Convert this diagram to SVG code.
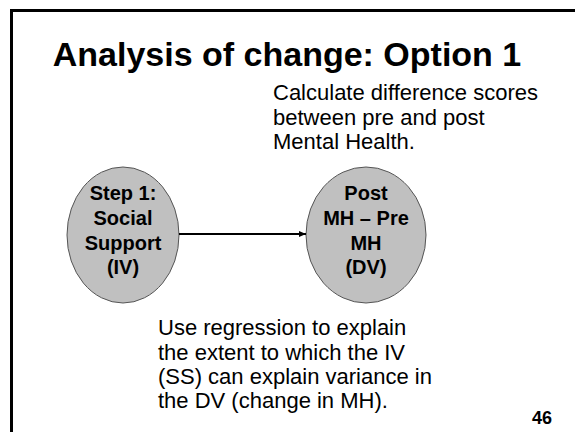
<svg xmlns="http://www.w3.org/2000/svg" width="575" height="432" viewBox="0 0 575 432">
<style>
.t{font-family:"Liberation Sans",Arial,sans-serif;fill:#000}
.b{font-weight:bold}
.node{fill:#c0c0c0;stroke:#555;stroke-width:1}
</style>
<defs>
<marker id="ah" markerWidth="8" markerHeight="8" refX="7" refY="4" orient="auto" markerUnits="userSpaceOnUse">
<path d="M0,1 L7,4 L0,7 Z" fill="#000"/>
</marker>
</defs>
<rect width="575" height="432" fill="#fff"/>
<path d="M11.5,440 L11.5,10.5 L580,10.5" fill="none" stroke="#000" stroke-width="3"/>
<text class="t b" x="287" y="66" font-size="34" text-anchor="middle">Analysis of change: Option 1</text>
<text class="t" font-size="22"><tspan x="273" y="100">Calculate difference scores</tspan><tspan x="273" y="125">between pre and post</tspan><tspan x="273" y="149">Mental Health.</tspan></text>
<g id="node-iv">
<ellipse class="node" cx="123" cy="235" rx="56" ry="68"/>
<text class="t b" font-size="20" text-anchor="middle"><tspan x="123" y="200">Step 1:</tspan><tspan x="123" y="225">Social</tspan><tspan x="123" y="250">Support</tspan><tspan x="123" y="274">(IV)</tspan></text>
</g>
<g id="node-dv">
<ellipse class="node" cx="366" cy="235" rx="60" ry="68"/>
<text class="t b" font-size="20" text-anchor="middle"><tspan x="366" y="200">Post</tspan><tspan x="366" y="225">MH – Pre</tspan><tspan x="366" y="250">MH</tspan><tspan x="366" y="274">(DV)</tspan></text>
</g>
<g id="connectors">
<line x1="179" y1="234" x2="306" y2="234" stroke="#000" stroke-width="2" marker-end="url(#ah)"/>
</g>
<text class="t" font-size="22"><tspan x="158" y="335">Use regression to explain</tspan><tspan x="158" y="360">the extent to which the IV</tspan><tspan x="158" y="384">(SS) can explain variance in</tspan><tspan x="158" y="408">the DV (change in MH).</tspan></text>
<text class="t b" x="552" y="424" font-size="18" text-anchor="end">46</text>
</svg>
